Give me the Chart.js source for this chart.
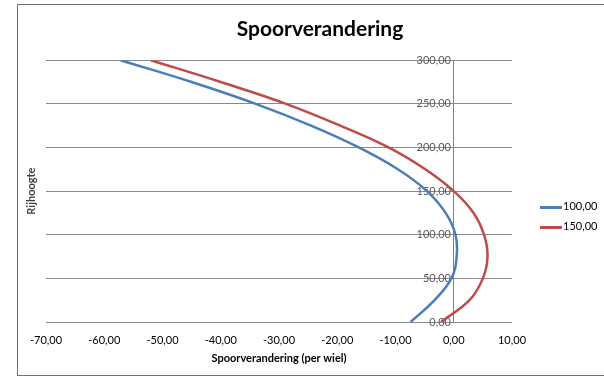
<!DOCTYPE html>
<html>
<head>
<meta charset="utf-8">
<script src="https://cdn.jsdelivr.net/npm/chart.js@4.4.0/dist/chart.umd.min.js"></script>
<style>
  html, body { margin: 0; padding: 0; background: #fff; overflow: hidden; }
  body { width: 604px; height: 377px; position: relative; font-family: Lato, sans-serif; }
  .frame { position: absolute; left: 17px; top: 4px; width: 660px; height: 370px; border: 1px solid #707070; border-right: none; }
  #wrap { position: absolute; left: 0; top: 0; width: 640px; height: 377px; }
  #legend { position: absolute; left: 540px; top: 199px; font-size: 11px; color: #000; }
  #legend div { height: 20px; line-height: 14px; white-space: nowrap; }
  #legend span.sw { display: inline-block; width: 22px; height: 3px; vertical-align: middle; margin-right: 1px; }
</style>
</head>
<body>
<div class="frame"></div>
<div id="wrap"><canvas id="chart" width="640" height="377"></canvas></div>
<div id="legend"></div>
<script>
// Rijhoogte (y) against spoorverandering (x)
const heights = [0, 25, 50, 75, 100, 125, 150, 175, 200, 225, 250, 275, 300];
const track100 = [-7.4, -3.3, -0.4, 0.5, 0.3, -1.4, -4.6, -9.6, -16.3, -24.5, -34.0, -45.0, -57.2];
const track150 = [-2.2, 2.7, 5.0, 5.8, 5.2, 3.4, 0.0, -4.9, -11.2, -19.5, -28.8, -40.0, -52.0];
const seriesLabels = ['100,00', '150,00'];
const seriesColors = ['#4a7ebb', '#be4b48'];
const xTicks = [-70, -60, -50, -40, -30, -20, -10, 0, 10];
const yTicks = [0, 50, 100, 150, 200, 250, 300];
const chartTitle = 'Spoorverandering';
const xTitle = 'Spoorverandering (per wiel)';
const yTitle = 'Rijhoogte';

const fmt = v => v.toFixed(2).replace('.', ',');
const toPoints = xs => xs.map((x, i) => ({ x: x, y: heights[i] }));

const yAxisTitle = {
    id: 'yAxisTitle',
    afterDraw(chart) {
        const ctx = chart.ctx;
        const area = chart.chartArea;
        ctx.save();
        ctx.translate(31, (area.top + area.bottom) / 2);
        ctx.rotate(-Math.PI / 2);
        ctx.font = 'bold 11px Lato';
        ctx.fillStyle = '#404040';
        ctx.textAlign = 'center';
        ctx.textBaseline = 'middle';
        ctx.fillText(yTitle, 0, 0);
        ctx.restore();
    }
};

const ctx = document.getElementById('chart').getContext('2d');
new Chart(ctx, {
    type: 'scatter',
    data: {
        datasets: [track100, track150].map((xs, i) => ({
            label: seriesLabels[i],
            data: toPoints(xs),
            showLine: true,
            borderColor: seriesColors[i],
            backgroundColor: seriesColors[i],
            borderWidth: 2.5,
            pointRadius: 0,
            tension: 0.4
        }))
    },
    options: {
        responsive: false,
        animation: false,
        layout: { padding: { left: 46, right: 46, top: 8, bottom: 12 } },
        scales: {
            x: {
                type: 'linear',
                min: -70,
                max: 10,
                afterBuildTicks: axis => { axis.ticks = xTicks.map(v => ({ value: v })); },
                afterFit: axis => { axis.height = 43; },
                grid: { display: false, drawTicks: false },
                border: { display: false },
                ticks: {
                    padding: 12,
                    maxRotation: 0,
                    color: '#000',
                    font: { family: 'Lato', size: 11 },
                    callback: v => fmt(v)
                },
                title: {
                    display: true,
                    text: xTitle,
                    color: '#000',
                    font: { family: 'Lato', size: 11, weight: 'bold' },
                    padding: { top: 0, bottom: 0 }
                }
            },
            y: {
                type: 'linear',
                position: { x: 0 },
                min: 0,
                max: 300,
                afterBuildTicks: axis => { axis.ticks = yTicks.map(v => ({ value: v })); },
                grid: { color: '#8a8a8a', lineWidth: 1, drawTicks: false },
                border: { display: true, color: '#808080', width: 1 },
                ticks: {
                    color: '#595959',
                    font: { family: 'Lato', size: 11 },
                    callback: v => fmt(v) + ' '
                }
            },
            // empty strip on the right that keeps room for the legend
            side: {
                type: 'linear',
                position: 'right',
                grid: { display: false, drawTicks: false },
                border: { display: false },
                ticks: { display: false },
                afterFit: axis => { axis.width = 82; }
            }
        },
        plugins: {
            legend: { display: false },
            tooltip: { enabled: false },
            title: {
                display: true,
                text: chartTitle,
                color: '#000',
                font: { family: 'Lato', size: 21, weight: 'bold' },
                padding: { top: 9, bottom: 18 }
            }
        }
    },
    plugins: [yAxisTitle]
});

// legend beside the plot
const legend = document.getElementById('legend');
seriesLabels.forEach((label, i) => {
    const row = document.createElement('div');
    const sw = document.createElement('span');
    sw.className = 'sw';
    sw.style.background = seriesColors[i];
    row.appendChild(sw);
    row.appendChild(document.createTextNode(label));
    legend.appendChild(row);
});
</script>
</body>
</html>
